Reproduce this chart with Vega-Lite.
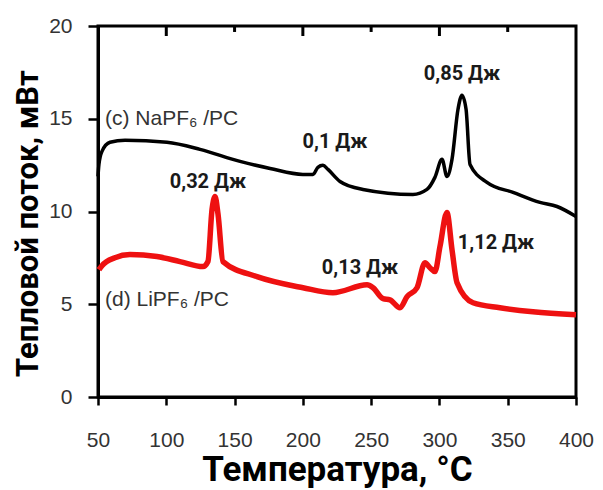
{
  "$schema": "https://vega.github.io/schema/vega-lite/v6.json",
  "width": 478,
  "height": 371,
  "autosize": {"type": "none"},
  "padding": {"left": 98, "top": 26, "right": 27, "bottom": 93},
  "background": "white",
  "config": {"view": {"stroke": "#000000", "strokeWidth": 3}},
  "datasets": {
    "na": [
      {"t": 50.0, "q": 11.9}, {"t": 50.7, "q": 12.54}, {"t": 52.9, "q": 13.24}, {"t": 58.8, "q": 13.73},
      {"t": 69.8, "q": 13.84}, {"t": 100.5, "q": 13.73}, {"t": 124.7, "q": 13.35}, {"t": 154, "q": 12.7},
      {"t": 176, "q": 12.32}, {"t": 200, "q": 12.0}, {"t": 207.4, "q": 12.0}, {"t": 211, "q": 12.38},
      {"t": 214.7, "q": 12.49}, {"t": 218.4, "q": 12.27}, {"t": 227.2, "q": 11.62}, {"t": 244, "q": 11.19},
      {"t": 280.6, "q": 10.92}, {"t": 290.9, "q": 11.19}, {"t": 296.7, "q": 11.84}, {"t": 301.9, "q": 12.81},
      {"t": 305.5, "q": 11.89}, {"t": 309.2, "q": 12.81}, {"t": 313.6, "q": 15.51}, {"t": 316.5, "q": 16.27},
      {"t": 319.5, "q": 15.51}, {"t": 322.4, "q": 12.54}, {"t": 334.8, "q": 11.57}, {"t": 353.9, "q": 11.03},
      {"t": 373.6, "q": 10.49}, {"t": 386.1, "q": 10.27}, {"t": 400, "q": 9.73}
    ],
    "li": [
      {"t": 50.7, "q": 6.86}, {"t": 52.9, "q": 7.08}, {"t": 62.4, "q": 7.51}, {"t": 73.4, "q": 7.68},
      {"t": 93.2, "q": 7.57}, {"t": 110, "q": 7.3}, {"t": 126.9, "q": 7.03}, {"t": 130.5, "q": 7.3},
      {"t": 133.5, "q": 10.11}, {"t": 135.7, "q": 10.81}, {"t": 137.9, "q": 9.84}, {"t": 141.5, "q": 7.3},
      {"t": 166.4, "q": 6.49}, {"t": 200.1, "q": 5.89}, {"t": 222, "q": 5.62}, {"t": 247, "q": 6.05},
      {"t": 251.4, "q": 5.89}, {"t": 258.7, "q": 5.3}, {"t": 263.8, "q": 5.24}, {"t": 271.1, "q": 4.81},
      {"t": 276.3, "q": 5.41}, {"t": 283.6, "q": 5.89}, {"t": 289.4, "q": 7.24}, {"t": 293.1, "q": 6.97},
      {"t": 296.7, "q": 6.76}, {"t": 300.4, "q": 8.11}, {"t": 305.5, "q": 9.95}, {"t": 309.2, "q": 7.95},
      {"t": 312.9, "q": 6.16}, {"t": 324.6, "q": 5.08}, {"t": 344.3, "q": 4.81}, {"t": 368.5, "q": 4.59},
      {"t": 400, "q": 4.43}
    ],
    "names": [
      {"t": 55.1, "q": 14.97, "label": "(c) NaPF₆ /PC"},
      {"t": 55.1, "q": 5.24, "label": "(d) LiPF₆ /PC"}
    ],
    "energies": [
      {"t": 130.5, "q": 11.57, "label": "0,32 Дж"},
      {"t": 223.5, "q": 13.73, "label": "0,1 Дж"},
      {"t": 316.5, "q": 17.4, "label": "0,85 Дж"},
      {"t": 241.8, "q": 6.97, "label": "0,13 Дж"},
      {"t": 341.4, "q": 8.32, "label": "1,12 Дж"}
    ],
    "topMajor": [{"t": 100}, {"t": 200}, {"t": 300}],
    "topMinor": [{"t": 150}, {"t": 250}, {"t": 350}]
  },
  "resolve": {"axis": {"x": "independent", "y": "independent"}},
  "layer": [
    {
      "data": {"name": "na"},
      "mark": {"type": "line", "color": "#000000", "strokeWidth": 3.5, "interpolate": "monotone"},
      "encoding": {
        "x": {"field": "t", "type": "quantitative", "scale": {"domain": [50, 400], "nice": false, "zero": false},
          "axis": {"orient": "bottom", "values": [50, 100, 150, 200, 250, 300, 350, 400], "grid": false, "labelFlush": false,
            "domainColor": "#000000", "domainWidth": 3, "tickColor": "#000000", "tickWidth": 2.5, "tickSize": 8,
            "labelFont": "Liberation Sans", "labelFontSize": 21, "labelColor": "#333333", "labelPadding": 24,
            "title": "Температура, °C", "titleFont": "Roboto", "titleFontWeight": "bold", "titleFontSize": 35,
            "titleColor": "#000000", "titleX": 239, "titleY": 83, "titleAlign": "center", "titleBaseline": "alphabetic"}},
        "y": {"field": "q", "type": "quantitative", "scale": {"domain": [0, 20], "nice": false},
          "axis": {"orient": "left", "values": [0, 5, 10, 15, 20], "grid": false,
            "domainColor": "#000000", "domainWidth": 3, "tickColor": "#000000", "tickWidth": 2.5, "tickSize": 10,
            "labelFont": "Liberation Sans", "labelFontSize": 21, "labelColor": "#333333", "labelPadding": 16,
            "title": "Тепловой поток, мВт", "titleFont": "Roboto", "titleFontWeight": "bold", "titleFontSize": 31,
            "titleColor": "#000000", "titleX": -61, "titleY": 197, "titleAlign": "center", "titleBaseline": "alphabetic", "titleAngle": 270}}
      }
    },
    {
      "data": {"name": "li"},
      "mark": {"type": "line", "color": "#ee1111", "strokeWidth": 5.5, "interpolate": "monotone"},
      "encoding": {
        "x": {"field": "t", "type": "quantitative", "axis": null},
        "y": {"field": "q", "type": "quantitative", "axis": null}
      }
    },
    {
      "data": {"name": "topMajor"},
      "mark": {"type": "tick", "orient": "vertical", "color": "#000000", "size": 10, "thickness": 3, "opacity": 1},
      "encoding": {
        "x": {"field": "t", "type": "quantitative", "axis": null},
        "y": {"datum": 19.73, "type": "quantitative", "axis": null}
      }
    },
    {
      "data": {"name": "topMinor"},
      "mark": {"type": "tick", "orient": "vertical", "color": "#000000", "size": 6, "thickness": 3, "opacity": 1},
      "encoding": {
        "x": {"field": "t", "type": "quantitative", "axis": null},
        "y": {"datum": 19.84, "type": "quantitative", "axis": null}
      }
    },
    {
      "data": {"name": "names"},
      "mark": {"type": "text", "align": "left", "baseline": "middle", "font": "Liberation Sans", "fontSize": 21, "color": "#333333"},
      "encoding": {
        "x": {"field": "t", "type": "quantitative", "axis": null},
        "y": {"field": "q", "type": "quantitative", "axis": null},
        "text": {"field": "label", "type": "nominal"}
      }
    },
    {
      "data": {"name": "energies"},
      "mark": {"type": "text", "align": "center", "baseline": "middle", "font": "Roboto", "fontWeight": "bold", "fontSize": 20, "color": "#1a1a1a"},
      "encoding": {
        "x": {"field": "t", "type": "quantitative", "axis": null},
        "y": {"field": "q", "type": "quantitative", "axis": null},
        "text": {"field": "label", "type": "nominal"}
      }
    }
  ]
}
